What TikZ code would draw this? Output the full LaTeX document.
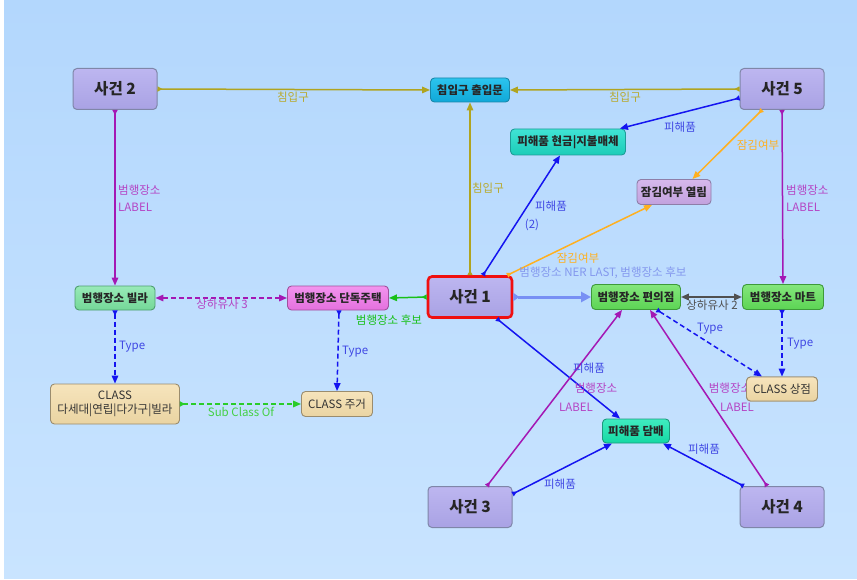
\documentclass[tikz,border=0pt]{standalone}
\usepackage{fontspec}
\setmainfont{Noto Sans CJK KR}
\usetikzlibrary{arrows.meta,calc}
\definecolor{bgT}{HTML}{B3D7FD}
\definecolor{bgB}{HTML}{C9E4FF}
\definecolor{evtT}{HTML}{BDB6F0}
\definecolor{evtB}{HTML}{A9A2E4}
\definecolor{evtD}{HTML}{7F86A8}
\definecolor{cyanT}{HTML}{2CC4EE}
\definecolor{cyanB}{HTML}{10A8D8}
\definecolor{cyanD}{HTML}{1A86A8}
\definecolor{turT}{HTML}{40E4D4}
\definecolor{turB}{HTML}{1CCCB8}
\definecolor{turD}{HTML}{1E9C98}
\definecolor{lilT}{HTML}{D6B8EC}
\definecolor{lilB}{HTML}{C2A2DE}
\definecolor{lilD}{HTML}{8E7EA8}
\definecolor{mintT}{HTML}{98EAB8}
\definecolor{mintB}{HTML}{74D898}
\definecolor{mintD}{HTML}{4E9E70}
\definecolor{magT}{HTML}{F294EE}
\definecolor{magB}{HTML}{E470DE}
\definecolor{magD}{HTML}{A0509C}
\definecolor{grnT}{HTML}{84E67C}
\definecolor{grnB}{HTML}{5CD454}
\definecolor{grnD}{HTML}{3E9A3A}
\definecolor{tanT}{HTML}{F6E4BC}
\definecolor{tanB}{HTML}{EAD4A2}
\definecolor{tanD}{HTML}{9A8C6E}
\definecolor{tobT}{HTML}{40ECC0}
\definecolor{tobB}{HTML}{14D8A4}
\definecolor{tobD}{HTML}{1C9A7C}
\definecolor{olive}{HTML}{B0A420}
\definecolor{oliveL}{HTML}{B8AA30}
\definecolor{purp}{HTML}{A418B4}
\definecolor{purpL}{HTML}{B444C4}
\definecolor{blu}{HTML}{1414F0}
\definecolor{bluL}{HTML}{4048E4}
\definecolor{orng}{HTML}{FFB020}
\definecolor{lblu}{HTML}{7890F4}
\definecolor{lbluL}{HTML}{8498EE}
\definecolor{ggreen}{HTML}{18C018}
\definecolor{sgreen}{HTML}{2ACC2A}
\definecolor{sgreenL}{HTML}{44D044}
\definecolor{dgray}{HTML}{505050}
\definecolor{redB}{HTML}{F01010}
\tikzset{
  evt/.style={draw=evtD, line width=1pt, rounded corners=4pt, top color=evtT, bottom color=evtB,
    minimum width=84pt, minimum height=41pt, inner sep=0pt,
    font=\fontsize{15.5}{18}\selectfont\bfseries, text=black!85},
  bx/.style={draw, line width=0.9pt, rounded corners=4pt, minimum height=25pt, inner sep=0pt,
    font=\fontsize{11.5}{13}\selectfont\bfseries, text=black!85},
  cls/.style={bx, draw=tanD, top color=tanT, bottom color=tanB, font=\fontsize{11.5}{13}\selectfont, text=black!80},
  lbl/.style={inner sep=0pt, font=\fontsize{11.5}{17.5}\selectfont},
  dsh/.style={dash pattern=on 5pt off 3pt},
  ed/.style={line width=1.5pt, {Triangle[reversed,length=5pt,width=5pt]}-{Triangle[length=8pt,width=6.5pt]}},
  dbl/.style={line width=1.5pt, {Triangle[length=8pt,width=6.5pt]}-{Triangle[length=8pt,width=6.5pt]}},
}
\begin{document}
\begin{tikzpicture}[x=1pt,y=-1pt]
\useasboundingbox (0,0) rectangle (857,580);
\fill[white] (0,0) rectangle (857,580);
\shade[top color=bgT, bottom color=bgB] (4,0) rectangle (857,578);

% nodes
\node[evt] (s2) at (115,89) {사건 2};
\node[evt] (s5) at (782,89) {사건 5};
\node[evt, draw=redB, line width=2.6pt] (s1) at (470,297) {사건 1};
\node[evt] (s3) at (470,507) {사건 3};
\node[evt] (s4) at (782,507) {사건 4};
\node[bx, draw=cyanD, top color=cyanT, bottom color=cyanB, minimum width=79pt, minimum height=24pt] (door) at (470,90) {침입구 출입문};
\node[bx, draw=turD, top color=turT, bottom color=turB, minimum width=115pt, minimum height=26pt] (cash) at (568,142) {피해품 현금|지불매체};
\node[bx, draw=lilD, top color=lilT, bottom color=lilB, minimum width=74pt] (lock) at (674,192) {잠김여부 열림};
\node[bx, draw=mintD, top color=mintT, bottom color=mintB, minimum width=80pt, minimum height=24pt] (villa) at (115,298) {범행장소 빌라};
\node[bx, draw=magD, top color=magT, bottom color=magB, minimum width=101pt, minimum height=24pt] (house) at (338,298) {범행장소 단독주택};
\node[bx, draw=grnD, top color=grnT, bottom color=grnB, minimum width=89pt] (conv) at (636,297) {범행장소 편의점};
\node[bx, draw=grnD, top color=grnT, bottom color=grnB, minimum width=81pt] (mart) at (783,297) {범행장소 마트};
\node[cls, minimum width=129pt, minimum height=40pt, align=center, font=\fontsize{11.5}{14.5}\selectfont] (cmulti) at (115,404) {CLASS\\다세대|연립|다가구|빌라};
\node[cls, minimum width=71pt] (chouse) at (337,404) {CLASS 주거};
\node[cls, minimum width=71pt, minimum height=24pt] (cshop) at (782,389) {CLASS 상점};
\node[bx, draw=tobD, top color=tobT, bottom color=tobB, minimum width=67pt, minimum height=24pt] (tob) at (636,431) {피해품 담배};

% edges
\draw[ed, olive] (s2.east) -- (door.west);
\draw[ed, olive] (s5.west) -- (door.east);
\draw[ed, olive] (s1.north) -- (door.south);
\draw[ed, purp] (s2.south) -- (villa.north);
\draw[ed, purp] (s5.south) -- (mart.north);
\draw[ed, blu] ([yshift=-9pt]s5.west) -- ([xshift=-6pt]cash.north east);
\draw[ed, blu] ([xshift=13pt]s1.north) -- ([xshift=-8pt]cash.south);
\draw[ed, orng] ([xshift=-20pt]s5.south) -- ([xshift=-19pt]lock.north east);
\draw[ed, orng] ([xshift=-6pt]s1.north east) -- ([xshift=-22pt]lock.south);
\draw[line width=3pt, lblu, {Triangle[reversed,length=6pt,width=8pt]}-{Triangle[length=10pt,width=10pt]}] (s1.east) -- (conv.west);
\draw[ed, ggreen] (s1.west) -- (house.east);
\draw[dbl, purp, dsh] (villa.east) -- (house.west);
\draw[dbl, dgray, line width=1.8pt] (conv.east) -- (mart.west);
\draw[ed, blu, dsh] (villa.south) -- (cmulti.north);
\draw[ed, blu, dsh] ([xshift=1pt]house.south) -- (chouse.north);
\draw[ed, blu, dsh] ([xshift=-1pt]mart.south) -- (cshop.north);
\draw[ed, blu, dsh] ([xshift=21pt]conv.south) -- ([xshift=-20pt]cshop.north);
\draw[ed, sgreen, dsh] (cmulti.east) -- (chouse.west);
\draw[ed, blu] ([xshift=27pt]s1.south) -- ([xshift=-16pt]tob.north);
\draw[ed, purp] ([xshift=17pt]s3.north) -- ([xshift=-14pt]conv.south);
\draw[ed, purp] ([xshift=-15pt]s4.north) -- ([xshift=14pt]conv.south);
\draw[ed, blu] ([yshift=13pt]s3.east) -- ([xshift=-24pt]tob.south);
\draw[ed, blu] ([xshift=4pt]s4.north west) -- ([xshift=-7pt]tob.south east);

% labels
\node[lbl, text=oliveL] (l1) at (293,97) {침입구};
\node[lbl, text=oliveL] (l2) at (625,97) {침입구};
\node[lbl, text=oliveL] (l3) at (488,188) {침입구};
\node[lbl, text=purpL, anchor=west, align=left] (l4) at (118,198) {범행장소\\LABEL};
\node[lbl, text=purpL, anchor=west, align=left] (l5) at (786,198) {범행장소\\LABEL};
\node[lbl, text=bluL] (l6) at (680,127) {피해품};
\node[lbl, text=bluL] (l7) at (551,206) {피해품};
\node[lbl, text=bluL] (l7b) at (532,225) {(2)};
\node[lbl, text=orng] (l8) at (758,145) {잠김여부};
\node[lbl, text=orng] (l9) at (578,258) {잠김여부};
\node[lbl, text=lbluL] (l10) at (603,273) {범행장소 NER LAST, 범행장소 후보};
\node[lbl, text=ggreen] (l11) at (389,320) {범행장소 후보};
\node[lbl, text=purpL] (l12) at (222,304) {상하유사 3};
\node[lbl, text=dgray] (l13) at (712,305) {상하유사 2};
\node[lbl, text=bluL, anchor=west] (l14) at (119,347) {Type};
\node[lbl, text=bluL, anchor=west] (l15) at (342,352) {Type};
\node[lbl, text=bluL, anchor=west] (l16) at (787,344) {Type};
\node[lbl, text=bluL] (l17) at (710,329) {Type};
\node[lbl, text=sgreenL] (l18) at (241,412) {Sub Class Of};
\node[lbl, text=bluL] (l19) at (589,368) {피해품};
\node[lbl, text=purpL] (l20) at (596,388) {범행장소};
\node[lbl, text=purpL] (l20b) at (576,407) {LABEL};
\node[lbl, text=purpL] (l21) at (730,388) {범행장소};
\node[lbl, text=purpL] (l21b) at (737,407) {LABEL};
\node[lbl, text=bluL] (l22) at (560,484) {피해품};
\node[lbl, text=bluL] (l23) at (704,449) {피해품};

% redraw node that covers a label
\node[cls, minimum width=71pt, minimum height=24pt] (cshop2) at (782,389) {CLASS 상점};
\end{tikzpicture}
\end{document}
